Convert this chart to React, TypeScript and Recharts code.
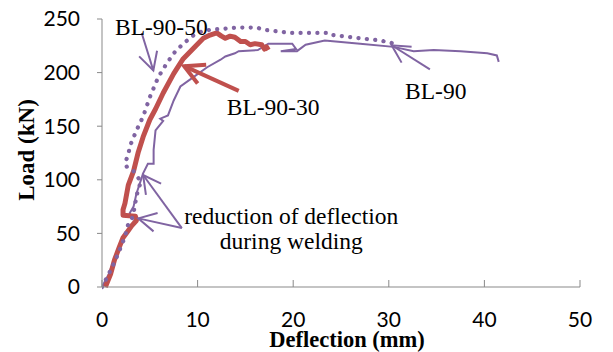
import { LineChart, Line, XAxis, YAxis, ReferenceLine, ReferenceDot, Label } from "recharts";

// BL-90 (thin purple)
const bl90Defl = [0, 0.7, 1.4, 2.1, 2.6, 3.1, 3.5, 3.7, 3.0, 2.9, 3.3, 3.6, 4.3, 4.8, 5.4, 5.4, 5.6, 6.4, 6.1, 6.9, 7.5, 8.2, 9.6, 11.0, 12.4, 12.9, 13.9, 14.3, 16.3, 17.4, 19.9, 20.3, 18.7, 20.4, 21.3, 23.3, 27.0, 30.5, 32.6, 34.7, 37.5, 40.3, 41.3, 41.5];
const bl90Load = [0, 12, 28, 45, 52, 58, 62, 64, 66, 69, 75, 87, 106, 115, 115, 128, 146, 155, 157, 160, 174, 187, 196, 205, 212, 215, 218, 220, 221, 227, 227, 222, 220, 220, 226, 230, 227, 224, 220, 221, 220, 218, 216, 210];

// BL-90-50 (dotted purple)
const bl9050Defl = [0, 0.7, 1.4, 2.1, 2.4, 2.75, 3.1, 3.3, 3.45, 3.6, 3.8, 4.1, 3.3, 2.6, 2.4, 2.75, 2.9, 3.6, 4.3, 5.0, 5.9, 6.8, 7.6, 8.5, 9.6, 10.6, 11.8, 12.9, 14.1, 16.2, 16.9, 19.7, 23.9, 24.2, 27.0, 29.1, 30.6];
const bl9050Load = [0, 12, 25, 40, 47, 59, 63, 69, 77, 84, 92, 98, 108, 112, 116, 123, 131, 146, 159, 177, 196, 209, 219, 227, 235, 239, 240.5, 241, 242, 242, 240, 237, 237, 235, 232, 230, 227];

// BL-90-30 (thick red)
const bl9030Defl = [0.35, 0.9, 1.3, 1.8, 2.2, 2.7, 3.1, 3.6, 3.5, 2.2, 2.2, 2.4, 2.75, 3.3, 3.8, 4.3, 5.0, 5.6, 6.4, 7.5, 8.5, 9.6, 10.6, 11.3, 12.0, 12.5, 12.9, 13.4, 13.9, 14.5, 15.0, 15.5, 16.0, 16.7, 17.0, 17.2, 17.4];
const bl9030Load = [0, 12, 25, 37, 46, 52, 57, 62, 66, 67, 72, 78, 95, 108, 126, 140, 156, 166, 181, 199, 213, 223, 232, 235, 237, 234, 232, 234, 233, 229, 229, 226, 227, 226, 222, 224, 221];

const xTicks = [0, 10, 20, 30, 40, 50];
const yTicks = [0, 50, 100, 150, 200, 250];

const zip = (xs: number[], ys: number[]) => xs.map((d, i) => ({ d, load: ys[i] }));
const bl90 = zip(bl90Defl, bl90Load);
const bl9050 = zip(bl9050Defl, bl9050Load);
const bl9030 = zip(bl9030Defl, bl9030Load);

const PURPLE = "#8064A2";
const RED = "#C0504D";
const AXIS = "#898989";
const SERIF = "'Liberation Serif', 'Times New Roman', serif";

// line from tail to tip with an open V head at the tip
const arrow = (color: string, width: number, len = 20) => (p: any) => {
  const { x1, y1, x2, y2 } = p;
  const ang = Math.atan2(y1 - y2, x1 - x2);
  const spread = (28 * Math.PI) / 180;
  const ax = x2 + len * Math.cos(ang + spread);
  const ay = y2 + len * Math.sin(ang + spread);
  const bx = x2 + len * Math.cos(ang - spread);
  const by = y2 + len * Math.sin(ang - spread);
  return (
    <g>
      <line x1={x1} y1={y1} x2={x2} y2={y2} stroke={color} strokeWidth={width} />
      <path d={`M${ax},${ay} L${x2},${y2} L${bx},${by}`} fill="none" stroke={color} strokeWidth={width} />
    </g>
  );
};

const note = (text: string, anchor: "start" | "middle" = "start") => (p: any) => (
  <text x={p.cx} y={p.cy} textAnchor={anchor} fontFamily={SERIF} fontSize={23.5} fill="#000">
    {text}
  </text>
);

// x ticks point up into the plot, label below
const XTick = (p: any) => (
  <g>
    <line x1={p.x} x2={p.x} y1={p.y - 25} y2={p.y - 32} stroke={AXIS} />
    <text x={p.x} y={p.y} dy="0.71em" textAnchor="middle" fontFamily="Lato" fontSize={21} fill="#000">
      {p.payload.value}
    </text>
  </g>
);

export default function App() {
  return (
    <div style={{ position: "absolute", left: 0, top: 0, background: "#fff" }}>
      <LineChart width={613} height={352} margin={{ top: 19, right: 33, left: 0, bottom: 0 }}>
        <XAxis
          type="number"
          dataKey="d"
          domain={[0, 50]}
          ticks={xTicks}
          height={65}
          tickSize={0}
          tickMargin={25}
          tick={<XTick />}
          axisLine={{ stroke: AXIS }}
          allowDataOverflow
        >
          <Label
            content={(p: any) => (
              <text
                x={p.viewBox.x + p.viewBox.width / 2 + 6}
                y={p.viewBox.y + 60}
                textAnchor="middle"
                fontFamily={SERIF}
                fontWeight="bold"
                fontSize={22.5}
                fill="#000"
              >
                Deflection (mm)
              </text>
            )}
          />
        </XAxis>
        <YAxis
          type="number"
          domain={[0, 250]}
          ticks={yTicks}
          width={102}
          tickSize={5}
          tickMargin={17}
          tick={{ fontFamily: "Lato", fontSize: 21, fill: "#000" }}
          axisLine={{ stroke: AXIS }}
          tickLine={{ stroke: AXIS }}
        >
          <Label
            content={(p: any) => {
              const cx = 26;
              const cy = p.viewBox.y + p.viewBox.height / 2 - 3;
              return (
                <text
                  x={cx}
                  y={cy}
                  transform={`rotate(-90 ${cx} ${cy})`}
                  textAnchor="middle"
                  dominantBaseline="central"
                  fontFamily={SERIF}
                  fontWeight="bold"
                  fontSize={23}
                  fill="#000"
                >
                  Load (kN)
                </text>
              );
            }}
          />
        </YAxis>

        <Line data={bl90} dataKey="load" stroke={PURPLE} strokeWidth={2} dot={false} isAnimationActive={false} />
        <Line data={bl9030} dataKey="load" stroke={RED} strokeWidth={5} dot={false} strokeLinejoin="round" isAnimationActive={false} />
        <Line
          data={bl9050}
          dataKey="load"
          stroke={PURPLE}
          strokeWidth={4.2}
          strokeDasharray="0.1 8.3"
          strokeLinecap="round"
          dot={false}
          isAnimationActive={false}
        />

        <ReferenceLine segment={[{ x: 4.15, y: 237 }, { x: 5.37, y: 202 }]} shape={arrow(PURPLE, 2)} />
        <ReferenceLine segment={[{ x: 14.3, y: 183 }, { x: 8.6, y: 206 }]} shape={arrow(RED, 4, 22)} />
        <ReferenceLine segment={[{ x: 34.3, y: 203 }, { x: 30.3, y: 225.5 }]} shape={arrow(PURPLE, 2)} />
        <ReferenceLine segment={[{ x: 8.35, y: 55 }, { x: 4.3, y: 104.5 }]} shape={arrow(PURPLE, 2)} />
        <ReferenceLine segment={[{ x: 8.35, y: 55 }, { x: 3.8, y: 64 }]} shape={arrow(PURPLE, 2)} />

        <ReferenceDot x={1.36} y={235} r={0} shape={note("BL-90-50")} />
        <ReferenceDot x={13.05} y={160} r={0} shape={note("BL-90-30")} />
        <ReferenceDot x={31.7} y={175} r={0} shape={note("BL-90")} />
        <ReferenceDot x={19.8} y={59} r={0} shape={note("reduction of deflection", "middle")} />
        <ReferenceDot x={19.8} y={35.5} r={0} shape={note("during welding", "middle")} />
      </LineChart>
    </div>
  );
}
